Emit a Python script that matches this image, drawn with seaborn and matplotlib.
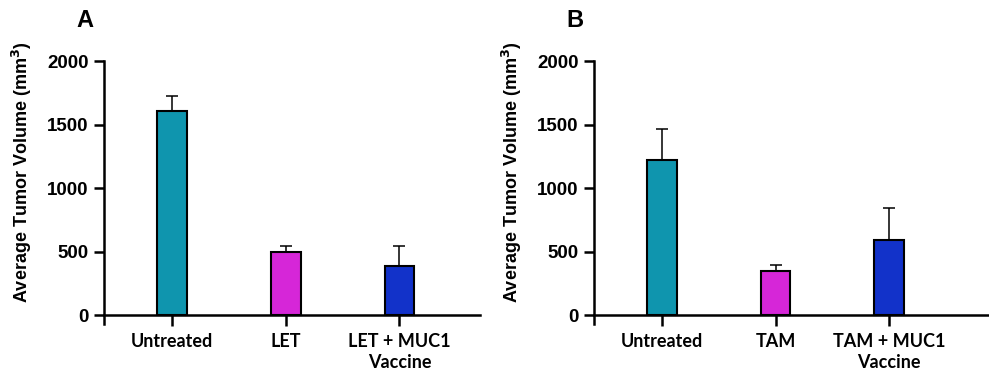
import pandas as pd
import matplotlib.pyplot as plt
import seaborn as sns

# values (mean and upper error, mm^3)
groups_a = ['Untreated', 'LET', 'LET + MUC1\nVaccine']
means_a = [1605, 500, 390]
errs_a = [120, 40, 155]

groups_b = ['Untreated', 'TAM', 'TAM + MUC1\nVaccine']
means_b = [1222, 345, 590]
errs_b = [245, 50, 255]

colors = ['#0F95AE', '#D626D8', '#1232C9']
yticks = [0, 500, 1000, 1500, 2000]

sns.set_style('white')
plt.rcParams['font.family'] = ['Liberation Sans', 'DejaVu Sans']
plt.rcParams['text.color'] = 'black'
plt.rcParams['axes.labelcolor'] = 'black'
plt.rcParams['xtick.color'] = 'black'
plt.rcParams['ytick.color'] = 'black'

fig = plt.figure(figsize=(9.89, 3.8), dpi=100)
W, H = 989, 380
ax_a = fig.add_axes([104 / W, (H - 324) / H, 376 / W, 263 / H])
ax_b = fig.add_axes([594 / W, (H - 324) / H, 394 / W, 263 / H])


def panel(ax, groups, means, errs, letter, xmax, width_px):
    df = pd.DataFrame({'group': groups, 'mean': means})
    sns.barplot(data=df, x='group', y='mean', hue='group', palette=colors,
                saturation=1, width=0.26, edgecolor='black', linewidth=1.5,
                legend=False, ax=ax)
    ax.errorbar(range(len(groups)), means, yerr=[[0] * len(errs), errs],
                fmt='none', ecolor='black', elinewidth=1.1, capsize=4, capthick=1.1)
    ax.set_ylim(-70, 2000)
    ax.set_xlim(-0.6, xmax)
    ax.set_yticks(yticks)
    ax.spines['top'].set_visible(False)
    ax.spines['right'].set_visible(False)
    ax.spines['bottom'].set_position(('data', 0))
    for s in ['left', 'bottom']:
        ax.spines[s].set_linewidth(1.8)
        ax.spines[s].set_color('black')
    ax.tick_params(axis='y', length=7, width=1.8, pad=4, labelsize=13.5, left=True)
    ax.tick_params(axis='x', length=8, width=1.8, pad=5, bottom=True)
    for lbl in ax.get_yticklabels():
        lbl.set_fontweight('bold')
    ax.set_xticks(range(len(groups)))
    ax.set_xticklabels(groups, fontfamily='Lato', fontweight='bold', fontsize=13,
                       linespacing=1.3)
    ax.set_xlabel('')
    ax.set_ylabel('Average Tumor Volume (mm$^\\mathbf{3}$)', fontsize=13,
                  fontweight='bold')
    ax.yaxis.set_label_coords(-70 / width_px, 0.578)
    ax.text(-19 / width_px, 1.155, letter, transform=ax.transAxes, fontsize=17,
            fontweight='bold', ha='center', va='center')


panel(ax_a, groups_a, means_a, errs_a, 'A', 2.71, 376)
panel(ax_b, groups_b, means_b, errs_b, 'B', 2.87, 394)

fig.savefig('out.png', dpi=100)
